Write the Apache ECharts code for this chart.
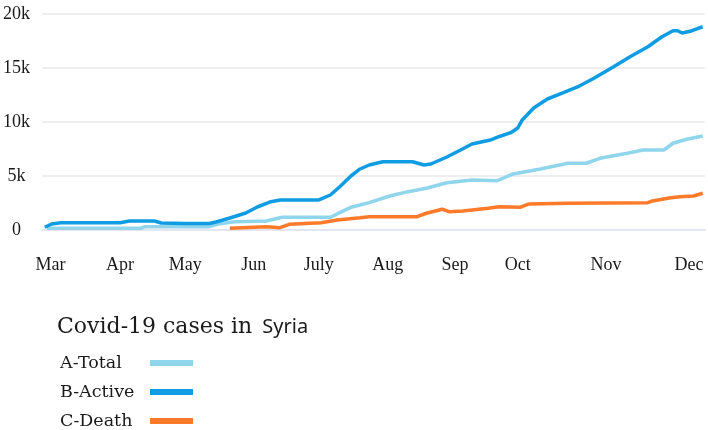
<!DOCTYPE html>
<html>
<head>
<meta charset="utf-8">
<script src="https://cdn.jsdelivr.net/npm/echarts@6/dist/echarts.min.js"></script>
<style>html,body{margin:0;padding:0;background:#fff}#c{width:708px;height:430px}</style>
</head>
<body>
<div id="c"></div>
<script>
// x values: day index along the time axis (0 = start of March)
const monthNames = ['Mar','Apr','May','Jun','July','Aug','Sep','Oct','Nov','Dec'];
const monthPos = [3.5, 33.9, 62.5, 92.5, 120.9, 151.1, 180.6, 208, 246.7, 283];
const yTicks = [0, 5000, 10000, 15000, 20000];

const totalDays = [2,43,45,73,77,84,98,105,126,131,135,139,143,152,160,168,177,188,199,206,218,230,238,244,256,263,272,276,282,289];
const totalVals = [160,160,310,310,560,770,830,1180,1180,1700,2100,2310,2530,3150,3550,3860,4380,4630,4560,5190,5650,6180,6180,6640,7100,7410,7410,8030,8400,8700];

const activeDays = [1,4,8,34,38,49,52,62,73,76,82,89,94,100,104,121,126,130,135,139,143,149,162,167,170,177,183,188,196,200,205,208,210,215,221,228,235,241,250,257,265,271,276,278,280,284,289];
const activeVals = [250,560,680,680,830,830,650,600,600,740,1110,1570,2130,2620,2780,2780,3240,3980,5000,5650,6020,6320,6320,6020,6110,6760,7410,7960,8330,8660,9010,9440,10190,11300,12130,12710,13330,14010,15120,16020,16970,17870,18450,18450,18240,18430,18820];

const deathDays = [82,98,104,108,122,129,139,143,164,168,175,178,184,195,200,209,213,230,265,267,275,279,285,289];
const deathVals = [160,310,210,530,680,930,1140,1230,1230,1550,1920,1700,1760,2010,2160,2100,2410,2470,2530,2690,2990,3080,3150,3400];

const zip = (a, b) => a.map((d, i) => [d, b[i]]);

const chart = echarts.init(document.getElementById('c'), null, {renderer: 'canvas'});
const serif = 'DejaVu Serif';
chart.setOption({
  animation: false,
  backgroundColor: '#fff',
  title: {
    text: '{a|Covid-19 cases in}{s| }{b|Syria}',
    left: 52, top: 311,
    textStyle: {
      rich: {
        a: {fontFamily: serif, fontSize: 22, fontWeight: 'normal', color: '#1a1a1a'},
        s: {width: 10},
        b: {fontFamily: 'Noto Sans', fontSize: 20, fontWeight: 'normal', color: '#1a1a1a'}
      }
    }
  },
  legend: {
    orient: 'vertical',
    left: 60, top: 354, height: 120, padding: 0,
    align: 'right',
    itemWidth: 43, itemHeight: 6, itemGap: 11,
    icon: 'rect',
    data: ['A-Total', 'B-Active', 'C-Death'],
    formatter: n => '{t|' + n + '}',
    textStyle: {
      rich: {t: {fontFamily: serif, fontSize: 17.5, color: '#1a1a1a', width: 85, align: 'left'}}
    }
  },
  grid: {left: 42, right: 3, top: 14, bottom: 200},
  xAxis: {
    type: 'value', min: 0, max: 290,
    axisLine: {show: true, lineStyle: {color: '#e0e4f2', width: 1.5}},
    axisTick: {show: false},
    splitLine: {show: false},
    axisLabel: {
      customValues: monthPos,
      margin: 26,
      fontFamily: 'Liberation Serif', fontSize: 18, color: '#1a1a1a',
      formatter: v => { const i = monthPos.indexOf(v); return i >= 0 ? monthNames[i] : ''; }
    }
  },
  yAxis: {
    type: 'value', min: 0, max: 20000, interval: 5000,
    axisLine: {show: false}, axisTick: {show: false},
    splitLine: {lineStyle: {color: '#e8e8e8', width: 1.5}},
    axisLabel: {
      align: 'center', margin: 26, verticalAlign: 'middle', padding: [0, 0, 10, 0],
      fontFamily: 'Liberation Serif', fontSize: 18, color: '#1a1a1a',
      formatter: v => v === 0 ? '0' : (v / 1000) + 'k'
    }
  },
  series: [
    {name: 'C-Death', type: 'line', data: zip(deathDays, deathVals), showSymbol: false, color: '#fd7a2a', lineStyle: {width: 3.5}, z: 2},
    {name: 'A-Total', type: 'line', data: zip(totalDays, totalVals), showSymbol: false, color: '#8fd5ec', lineStyle: {width: 3.5}, z: 3},
    {name: 'B-Active', type: 'line', data: zip(activeDays, activeVals), showSymbol: false, color: '#109ce2', lineStyle: {width: 3.5}, z: 4}
  ]
});
</script>
</body>
</html>
